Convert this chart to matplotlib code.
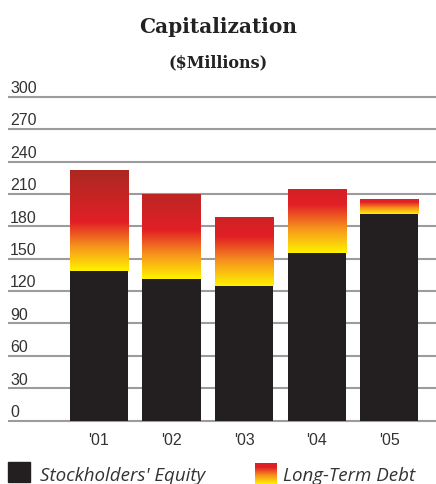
import matplotlib
matplotlib.use("Agg")
import matplotlib.pyplot as plt
import numpy as np
from matplotlib import transforms
from matplotlib.colors import to_rgb
from matplotlib.patches import Rectangle

years = ["'01", "'02", "'03", "'04", "'05"]
equity = [139, 131, 125, 155, 191]
debt = [93, 78, 63, 59, 13]
yticks = [0, 30, 60, 90, 120, 150, 180, 210, 240, 270, 300]

BLACK = "#231f20"
GRID = "#9c9c9c"
TEXT = "#333333"
YELLOW, ORANGE, RED, DARK = (np.array(to_rgb(c)) for c in
                             ("#fff200", "#f7941d", "#e21f26", "#a32a21"))


def debt_colors(height, n=200):
    """Colour ramp for one debt segment: yellow -> orange -> red, then darkening."""
    d = np.linspace(0, height, n)
    ramp = min(45.0, 0.8 * height)
    rows = []
    for v in d:
        if v < ramp:
            t = v / ramp
            if t < 0.5:
                c = YELLOW + (ORANGE - YELLOW) * (t / 0.5)
            else:
                c = ORANGE + (RED - ORANGE) * ((t - 0.5) / 0.5)
        else:
            s = min(1.0, (v - ramp) / 55.0)
            c = RED + (DARK - RED) * s
        rows.append(c)
    return np.array(rows)[:, None, :]


W, H = 436, 485
fig = plt.figure(figsize=(W / 100, H / 100), dpi=100)
ax = fig.add_axes([8 / W, 60.1 / H, 428 / W, 330.4 / H])

x = np.arange(len(years))
width = 0.8
ax.bar(x, equity, width=width, color=BLACK, zorder=3)
for xi, eq, dt in zip(x, equity, debt):
    ax.imshow(debt_colors(dt), origin="lower", aspect="auto", zorder=3,
              extent=[xi - width / 2, xi + width / 2, eq, eq + dt],
              interpolation="bilinear")

ax.set_xlim(-1.255, 4.648)
ax.set_ylim(-3, 303)
for v in yticks:
    ax.axhline(v, color=GRID, lw=1.5, zorder=1)

# value labels sit just above each gridline at the left edge
lbl_tr = transforms.offset_copy(ax.get_yaxis_transform(), fig=fig, x=0, y=1.2, units="points")
for v in yticks:
    ax.text(0.005, v, str(v), transform=lbl_tr, ha="left", va="bottom",
            fontsize=11.5, color=TEXT, family="Liberation Sans")

ax.set_xticks(x)
ax.set_xticklabels(years, fontsize=11.5, color=TEXT, family="Liberation Sans")
ax.tick_params(axis="x", length=0, pad=6)
ax.set_yticks([])
for s in ax.spines.values():
    s.set_visible(False)

fig.text(0.5, 1 - 27 / H, "Capitalization", ha="center", va="center",
         fontsize=14.5, fontweight="bold", family="DejaVu Serif", color="#222222")
fig.text(0.5, 1 - 63 / H, "($Millions)", ha="center", va="center",
         fontsize=11.5, fontweight="bold", family="DejaVu Serif", color="#222222")

# legend
fig.patches.append(Rectangle((8 / W, 1 - 483 / H), 22 / W, 20 / H,
                             transform=fig.transFigure, color=BLACK))
fig.text(40 / W, 1 - 476 / H, "Stockholders' Equity", ha="left", va="center",
         fontsize=13.5, style="italic", family="Open Sans", color=TEXT)
sw = fig.add_axes([255 / W, 1 - 485 / H, 22 / W, 21 / H])
sw.imshow(debt_colors(40), origin="lower", aspect="auto")
sw.axis("off")
fig.text(283 / W, 1 - 476 / H, "Long-Term Debt", ha="left", va="center",
         fontsize=13.5, style="italic", family="Open Sans", color=TEXT)

fig.savefig("out.png", dpi=100)
